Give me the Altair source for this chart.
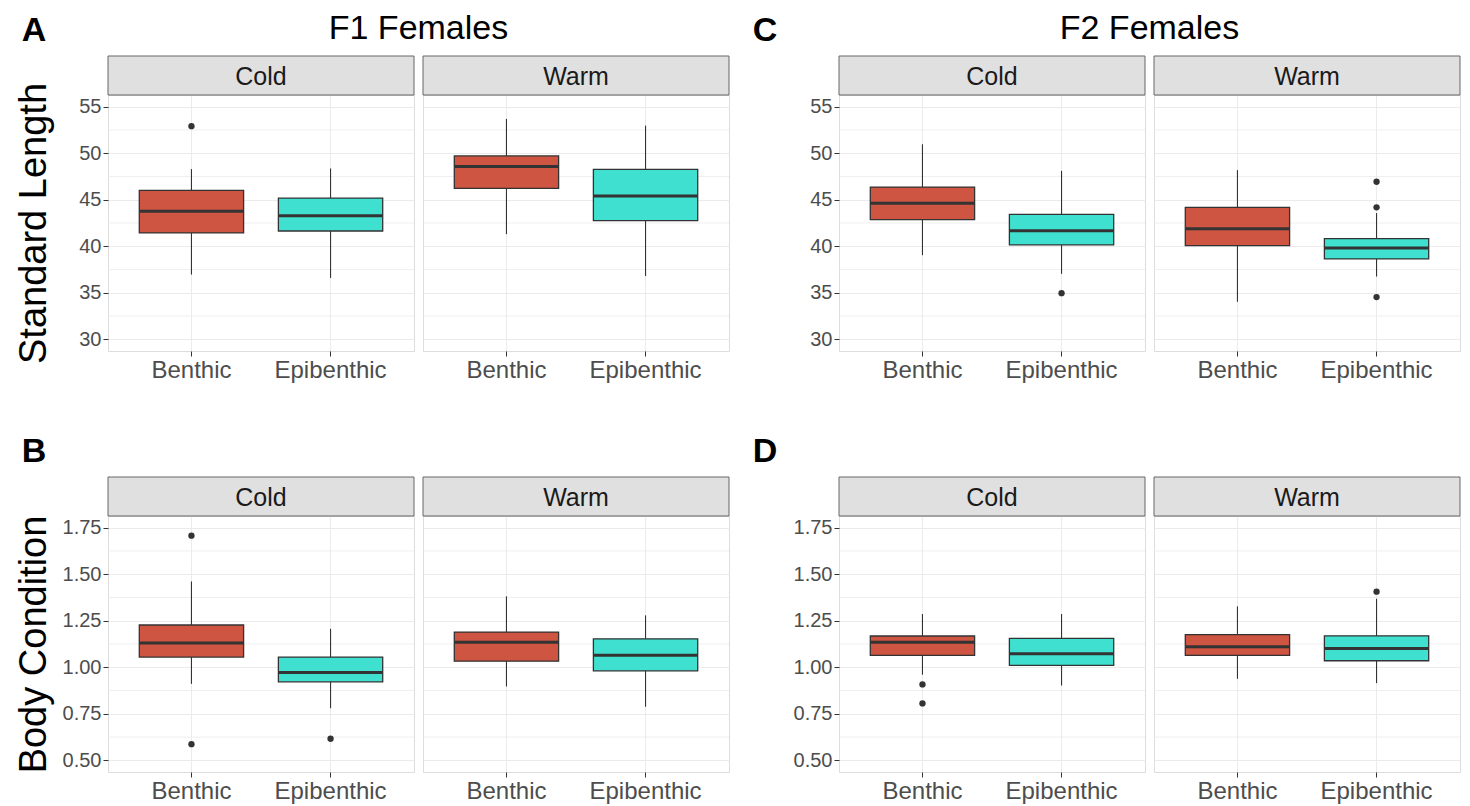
import altair as alt
import pandas as pd

# ---------------- data ----------------
types = ["Benthic", "Epibenthic"]
temps = ["Cold", "Warm"]
group_temp = ["Cold", "Cold", "Warm", "Warm"]
group_type = ["Benthic", "Epibenthic", "Benthic", "Epibenthic"]

# Panel A: F1 Females - Standard Length (box statistics per group)
a_lower = [36.96, 36.6, 41.3, 36.8]
a_q1 = [41.43, 41.64, 46.21, 42.75]
a_median = [43.75, 43.29, 48.57, 45.39]
a_q3 = [46.0, 45.18, 49.71, 48.25]
a_upper = [48.29, 48.36, 53.68, 52.96]
a_out_temp = ["Cold"]
a_out_type = ["Benthic"]
a_out_value = [52.9]

# Panel C: F2 Females - Standard Length
c_lower = [39.04, 37.04, 34.04, 36.75]
c_q1 = [42.86, 40.14, 40.07, 38.64]
c_median = [44.61, 41.68, 41.89, 39.82]
c_q3 = [46.36, 43.43, 44.18, 40.82]
c_upper = [50.96, 48.11, 48.18, 43.57]
c_out_temp = ["Cold", "Warm", "Warm", "Warm"]
c_out_type = ["Epibenthic", "Epibenthic", "Epibenthic", "Epibenthic"]
c_out_value = [34.96, 46.93, 44.18, 34.54]

# Panel B: F1 Females - Body Condition
b_lower = [0.911, 0.780, 0.897, 0.788]
b_q1 = [1.055, 0.922, 1.033, 0.981]
b_median = [1.130, 0.972, 1.135, 1.065]
b_q3 = [1.227, 1.055, 1.189, 1.153]
b_upper = [1.461, 1.207, 1.381, 1.279]
b_out_temp = ["Cold", "Cold", "Cold"]
b_out_type = ["Benthic", "Benthic", "Epibenthic"]
b_out_value = [1.707, 0.587, 0.616]

# Panel D: F2 Females - Body Condition
d_lower = [0.960, 0.902, 0.938, 0.915]
d_q1 = [1.064, 1.010, 1.064, 1.035]
d_median = [1.135, 1.073, 1.110, 1.101]
d_q3 = [1.168, 1.155, 1.175, 1.169]
d_upper = [1.286, 1.286, 1.327, 1.368]
d_out_temp = ["Cold", "Cold", "Warm"]
d_out_type = ["Benthic", "Benthic", "Epibenthic"]
d_out_value = [0.908, 0.806, 1.406]

sl_ticks = [30, 35, 40, 45, 50, 55]
sl_minor = [32.5, 37.5, 42.5, 47.5, 52.5]
sl_domain = [28.75, 56.25]
bc_ticks = [0.5, 0.75, 1.0, 1.25, 1.5, 1.75]
bc_minor = [0.625, 0.875, 1.125, 1.375, 1.625]
bc_domain = [0.4375, 1.8125]

# ---------------- style ----------------
FONT = "Liberation Sans"
W, H = 306, 256
STRIP = 39
FILLS = ["#CD5542", "#40E0D0"]
GRID = "#EBEBEB"
DARK = "#333333"
BOXW = W / 2.2 * 0.75


def stats_df(lo, q1, med, q3, up):
    return pd.DataFrame({"temp": group_temp, "type": group_type, "lower": lo,
                         "q1": q1, "median": med, "q3": q3, "upper": up})


def out_df(t, ty, v):
    return pd.DataFrame({"temp": t, "type": ty, "value": v})


def facet(temp, stats, outl, ticks, minor, domain, fmt, first, ytitle, letter, title):
    sdf = stats[stats["temp"] == temp]
    odf = outl[outl["temp"] == temp]
    xs = alt.X("type:N",
               scale=alt.Scale(domain=types, paddingInner=0, paddingOuter=0.1),
               axis=alt.Axis(title=None, labelAngle=0, bandPosition=0.5,
                             labelFontSize=24, labelColor="#4D4D4D", labelFont=FONT,
                             tickColor=DARK, tickSize=5, labelPadding=2,
                             domain=False, grid=True, gridColor=GRID))
    ysc = alt.Scale(domain=domain, nice=False, zero=False)
    if first:
        yax = alt.Axis(values=ticks, format=fmt, title=ytitle if ytitle else None,
                       titleFontSize=38, titleFont=FONT, titleFontWeight="normal",
                       titleColor="#000000", titlePadding=5,
                       labelFontSize=20, labelColor="#4D4D4D", labelFont=FONT,
                       tickColor=DARK, tickSize=5, labelPadding=2,
                       minExtent=50, maxExtent=50,
                       domain=False, grid=True, gridColor=GRID)
    else:
        yax = alt.Axis(values=ticks, labels=False, ticks=False, title=None,
                       domain=False, grid=True, gridColor=GRID,
                       minExtent=0, maxExtent=0)

    minor_l = alt.Chart(pd.DataFrame({"m": minor})).mark_rule(
        color=GRID, strokeWidth=0.8).encode(
        y=alt.Y("m:Q", scale=ysc, axis=yax))
    whisk = alt.Chart(sdf).mark_rule(color=DARK, strokeWidth=1.1).encode(
        x=xs, y=alt.Y("lower:Q", scale=ysc, axis=yax), y2="upper:Q")
    box = alt.Chart(sdf).mark_bar(width=alt.RelativeBandSize(0.75), stroke=DARK,
                                  strokeWidth=1.3, opacity=1).encode(
        x=xs, y=alt.Y("q1:Q", scale=ysc, axis=yax), y2="q3:Q",
        color=alt.Color("type:N", scale=alt.Scale(domain=types, range=FILLS), legend=None))
    med = alt.Chart(sdf).mark_tick(color=DARK, thickness=3, size=BOXW, opacity=1).encode(
        x=xs, y=alt.Y("median:Q", scale=ysc, axis=yax))
    outs = alt.Chart(odf).mark_circle(size=40, color=DARK, opacity=1).encode(
        x=xs, y=alt.Y("value:Q", scale=ysc, axis=yax))
    lab = pd.DataFrame({"label": [temp]})
    strip = alt.Chart(lab).mark_rect(fill="#E0E0E0", stroke="#666666", strokeWidth=1).encode(
        x=alt.value(0), x2=alt.value(W), y=alt.value(-STRIP), y2=alt.value(0))
    strip_t = alt.Chart(lab).mark_text(fontSize=25, font=FONT, color="#1A1A1A",
                                       baseline="middle", align="center").encode(
        text="label:N", x=alt.value(W / 2), y=alt.value(-STRIP / 2 + 1))
    layers = [minor_l, whisk, box, med, outs, strip, strip_t]
    if letter:
        lt = alt.Chart(pd.DataFrame({"t": [letter]})).mark_text(
            fontSize=34, font=FONT, fontWeight="bold", color="#000000",
            baseline="alphabetic", align="center").encode(
            text="t:N", x=alt.value(-74), y=alt.value(-54))
        layers.append(lt)
    if title:
        tt = alt.Chart(pd.DataFrame({"t": [title]})).mark_text(
            fontSize=34, font=FONT, color="#000000",
            baseline="alphabetic", align="center").encode(
            text="t:N", x=alt.value(W + 4.5), y=alt.value(-56))
        layers.append(tt)
    return alt.layer(*layers).properties(width=W, height=H)


def panel(stats, outl, ticks, minor, domain, fmt, ytitle, letter, title):
    cold = facet("Cold", stats, outl, ticks, minor, domain, fmt, True, ytitle, letter, title)
    warm = facet("Warm", stats, outl, ticks, minor, domain, fmt, False, None, None, None)
    return alt.hconcat(cold, warm, spacing=9, bounds="flush")


pA = panel(stats_df(a_lower, a_q1, a_median, a_q3, a_upper),
           out_df(a_out_temp, a_out_type, a_out_value),
           sl_ticks, sl_minor, sl_domain, "d", "Standard Length", "A", "F1 Females")
pC = panel(stats_df(c_lower, c_q1, c_median, c_q3, c_upper),
           out_df(c_out_temp, c_out_type, c_out_value),
           sl_ticks, sl_minor, sl_domain, "d", None, "C", "F2 Females")
pB = panel(stats_df(b_lower, b_q1, b_median, b_q3, b_upper),
           out_df(b_out_temp, b_out_type, b_out_value),
           bc_ticks, bc_minor, bc_domain, ".2f", "Body Condition", "B", None)
pD = panel(stats_df(d_lower, d_q1, d_median, d_q3, d_upper),
           out_df(d_out_temp, d_out_type, d_out_value),
           bc_ticks, bc_minor, bc_domain, ".2f", None, "D", None)

chart = alt.vconcat(
    alt.hconcat(pA, pC, spacing=22),
    alt.hconcat(pB, pD, spacing=22),
    spacing=51,
).properties(
    padding={"left": 6, "top": 3, "right": 0, "bottom": 0}
).configure_view(
    stroke="#666666", strokeWidth=1
).configure(font=FONT)

chart.save("out.html", embed_options={"renderer": "svg", "actions": False})
